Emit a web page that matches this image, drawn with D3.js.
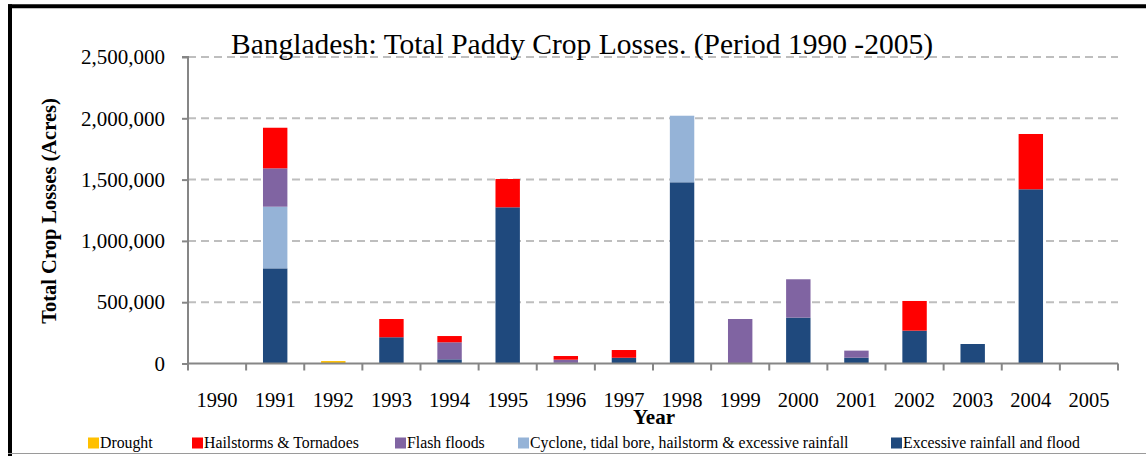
<!DOCTYPE html>
<html>
<head>
<meta charset="utf-8">
<script src="https://cdn.jsdelivr.net/npm/d3@7"></script>
<style>
  html, body { margin: 0; padding: 0; background: #fff; }
  svg { display: block; }
  svg text { font-family: "Liberation Serif", "Times New Roman", serif; }
</style>
</head>
<body>
<svg id="chart" width="1146" height="456"></svg>
<script>
const years = ["1990", "1991", "1992", "1993", "1994", "1995", "1996", "1997",
               "1998", "1999", "2000", "2001", "2002", "2003", "2004", "2005"]

const excessiveRainfall = [0, 776000, 0, 214000, 34000, 1274000, 5000, 47000,
                           1478000, 0, 374000, 47000, 268000, 159000, 1421000, 0]
const cyclone = [0, 503000, 0, 0, 0, 0, 0, 0,
                 543000, 0, 0, 0, 0, 0, 0, 0]
const flashFloods = [0, 313000, 0, 0, 139000, 0, 26000, 0,
                     0, 363000, 313000, 58000, 0, 0, 0, 0]
const hailstorms = [0, 331000, 0, 149000, 51000, 231000, 30000, 63000,
                    0, 0, 0, 0, 242000, 0, 451000, 0]
const drought = [0, 0, 20000, 0, 0, 0, 0, 0,
                 0, 0, 0, 0, 0, 0, 0, 0]

const yTicks = [0, 500000, 1000000, 1500000, 2000000, 2500000]

// stacking order bottom -> top, legend order is the reverse
const series = [
    {key: "excessive", name: "Excessive rainfall and flood", values: excessiveRainfall, color: "#1F497D"},
    {key: "cyclone", name: "Cyclone, tidal bore, hailstorm & excessive rainfall", values: cyclone, color: "#95B3D7"},
    {key: "flash", name: "Flash floods", values: flashFloods, color: "#8064A2"},
    {key: "hail", name: "Hailstorms & Tornadoes", values: hailstorms, color: "#FF0000"},
    {key: "drought", name: "Drought", values: drought, color: "#FFC000"},
]

const width = 1146, height = 456
const margin = {left: 188, right: 28, top: 57, bottom: 92.5}
const font = "Liberation Serif, Times New Roman, serif"

const svg = d3.select("#chart")

const table = years.map((y, i) => {
    const row = {year: y}
    series.forEach(s => row[s.key] = s.values[i])
    return row
})
const stacked = d3.stack().keys(series.map(s => s.key))(table)

const xScale = d3.scaleBand(years, [margin.left, width - margin.right])
    .paddingInner(0.58).paddingOuter(0.29)
const xBand = d3.scaleBand(years, [margin.left, width - margin.right])
const yScale = d3.scaleLinear([0, 2500000], [height - margin.bottom, margin.top])

// frame
svg.append("line")
    .attr("x1", 8).attr("x2", width).attr("y1", 6.3).attr("y2", 6.3)
    .attr("stroke", "#000").attr("stroke-width", 4)
svg.append("line")
    .attr("x1", 10).attr("x2", 10).attr("y1", 4.3).attr("y2", height)
    .attr("stroke", "#000").attr("stroke-width", 4)
svg.append("line")
    .attr("x1", 8).attr("x2", width).attr("y1", 453.5).attr("y2", 453.5)
    .attr("stroke", "#9a9a9a").attr("stroke-width", 1.2)

// gridlines
svg.append("g")
    .selectAll("line")
    .data(yTicks.slice(1))
    .join("line")
    .attr("x1", margin.left).attr("x2", width - margin.right)
    .attr("y1", d => yScale(d)).attr("y2", d => yScale(d))
    .attr("stroke", "#BEBEBE").attr("stroke-width", 2)
    .attr("stroke-dasharray", "8,5")

// bars
svg.append("g")
    .selectAll("g")
    .data(stacked)
    .join("g")
    .attr("fill", (d, i) => series[i].color)
    .selectAll("rect")
    .data(d => d.filter(p => p[1] > p[0]))
    .join("rect")
    .attr("x", d => xScale(d.data.year))
    .attr("width", xScale.bandwidth())
    .attr("y", d => yScale(d[1]))
    .attr("height", d => yScale(d[0]) - yScale(d[1]))

// y axis
const yAxis = d3.axisLeft(yScale)
    .tickValues(yTicks)
    .tickSize(6)
    .tickPadding(17)
    .tickFormat(d3.format(","))
const yAxisGroup = svg.append("g")
    .attr("transform", `translate(${margin.left}, 0)`)
    .call(yAxis)
    .attr("font-family", font)
yAxisGroup.select(".domain").attr("d", `M-6,${yScale(2500000)}H0V${yScale(0)}`)

// x axis with ticks on category boundaries
const xAxisGroup = svg.append("g")
    .attr("transform", `translate(0, ${yScale(0)})`)
xAxisGroup.append("line")
    .attr("x1", margin.left).attr("x2", width - margin.right)
    .attr("stroke", "#868686").attr("stroke-width", 2)
xAxisGroup.selectAll(".bound")
    .data(years.concat(["end"]))
    .join("line")
    .attr("class", "bound")
    .attr("x1", (d, i) => i < years.length ? xBand(d) : width - margin.right)
    .attr("x2", (d, i) => i < years.length ? xBand(d) : width - margin.right)
    .attr("y1", 0).attr("y2", 7)
    .attr("stroke", "#868686").attr("stroke-width", 2)
xAxisGroup.selectAll(".lbl")
    .data(years)
    .join("text")
    .attr("class", "lbl")
    .attr("x", d => xBand(d) + xBand.bandwidth() / 2)
    .attr("y", 43)
    .attr("text-anchor", "middle")
    .attr("font-family", font)
    .attr("font-size", 20.5)
    .attr("fill", "#000")
    .text(d => d)

yAxisGroup.selectAll(".tick line").attr("stroke", "#868686").attr("stroke-width", 2)
yAxisGroup.select(".domain").attr("stroke", "#868686").attr("stroke-width", 2)
yAxisGroup.selectAll(".tick text")
    .attr("font-size", 21)
    .attr("font-family", font)
    .attr("fill", "#000")

// titles
svg.append("text")
    .attr("x", 582)
    .attr("y", 54)
    .attr("text-anchor", "middle")
    .attr("font-family", font)
    .attr("font-size", 29.5)
    .text("Bangladesh: Total Paddy Crop Losses. (Period 1990 -2005)")

svg.append("text")
    .attr("transform", `translate(56, 211) rotate(-90)`)
    .attr("text-anchor", "middle")
    .attr("font-family", font)
    .attr("font-size", 20.5)
    .attr("font-weight", "bold")
    .text("Total Crop Losses (Acres)")

svg.append("text")
    .attr("x", 654)
    .attr("y", 424)
    .attr("text-anchor", "middle")
    .attr("font-family", font)
    .attr("font-size", 21)
    .attr("font-weight", "bold")
    .text("Year")

// legend
const legendX = [88, 192, 395, 518, 891]
const legendItems = series.slice().reverse()
const legend = svg.append("g")
    .selectAll("g")
    .data(legendItems)
    .join("g")
    .attr("transform", (d, i) => `translate(${legendX[i]}, 443)`)
legend.append("rect")
    .attr("x", 0).attr("y", -5.5)
    .attr("width", 11).attr("height", 11)
    .attr("fill", d => d.color)
legend.append("text")
    .attr("x", 12)
    .attr("y", 5)
    .attr("font-family", font)
    .attr("font-size", 15.8)
    .text(d => d.name)
</script>
</body>
</html>
